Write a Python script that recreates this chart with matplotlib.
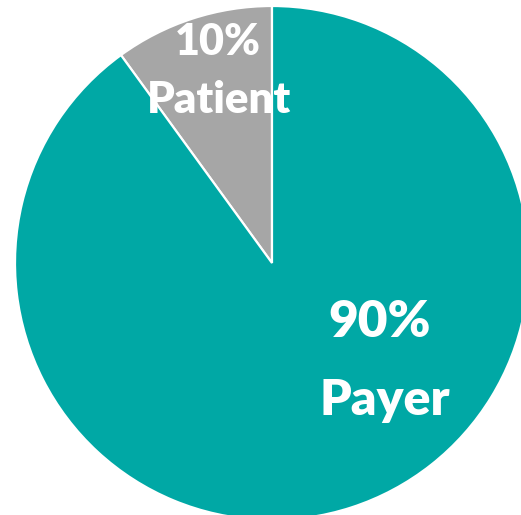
import matplotlib
matplotlib.use('Agg')

import matplotlib.pyplot as plt

# Share of cost, patient vs payer
labels = ['Patient', 'Payer']
shares = [10, 90]
colors = ['#A6A6A6', '#00A8A5']

W, H = 521, 515
fig = plt.figure(figsize=(W / 100, H / 100), dpi=100)
ax = fig.add_axes([0, 0, 1, 1])

# pie sits in pixel-like data coords, slightly cut off on the right/bottom
ax.pie(shares, colors=colors, startangle=90, counterclock=True,
       center=(272, H - 263), radius=257, frame=True,
       wedgeprops=dict(edgecolor='white', linewidth=1.6))
ax.set_xlim(0, W)
ax.set_ylim(0, H)
ax.set_aspect('equal')
ax.axis('off')

font = ['Lato', 'DejaVu Sans']
txt = dict(color='white', fontweight='heavy', family=font, ha='center', va='baseline')

# small slice label
ax.text(218, H - 55, '%d%%' % shares[0], fontsize=31, **txt)
ax.text(219, H - 113, labels[0], fontsize=31.5, **txt)

# big slice label
ax.text(380, H - 337, '%d%%' % shares[1], fontsize=37, **txt)
ax.text(385, H - 415, labels[1], fontsize=36, **txt)

plt.savefig('out.png', dpi=100)
